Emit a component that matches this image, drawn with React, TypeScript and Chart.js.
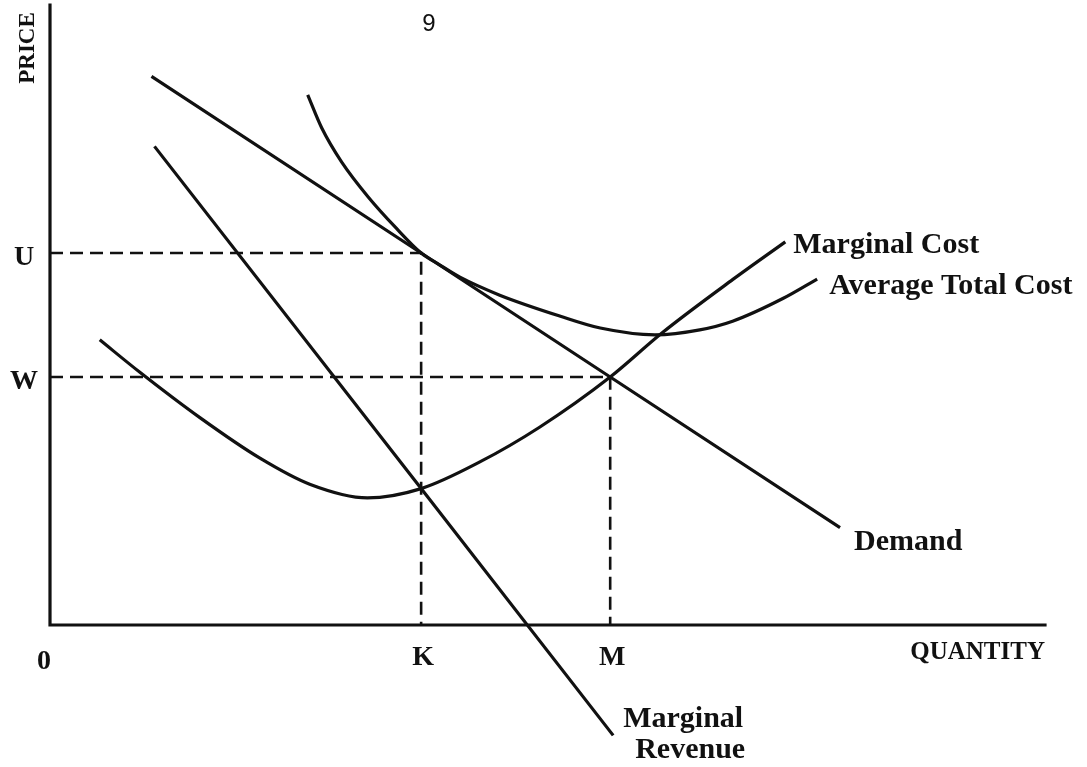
import React, { useEffect, useRef } from "react";
import { Chart, registerables } from "chart.js";

Chart.register(...registerables);

// ---- data (price / quantity units, 0..100) ----
const K = 37.3; // quantity where MR = MC
const M = 56.3; // quantity where Demand = MC
const U = 60; // price at K on demand (= ATC)
const W = 40; // price at M on demand (= MC)

const demand: [number, number][] = [
  [10.2, 88.5],
  [37.3, 60],
  [56.3, 40],
  [79.4, 15.7],
];

const marginalRevenue: [number, number][] = [
  [10.5, 77.2],
  [37.3, 22.0],
  [56.6, -17.8],
];

const marginalCost: [number, number][] = [
  [5.0, 46.0],
  [9.0, 40.8],
  [15.1, 33.4],
  [21.1, 26.9],
  [26.1, 22.7],
  [31.9, 20.5],
  [37.3, 22.0],
  [43.2, 26.3],
  [49.2, 31.9],
  [56.3, 40.0],
  [61.5, 47.1],
  [68.6, 55.7],
  [73.9, 61.8],
];

const averageTotalCost: [number, number][] = [
  [25.9, 85.5],
  [27.3, 80.2],
  [29.3, 74.7],
  [32.0, 69.0],
  [34.8, 64.0],
  [37.3, 60.0],
  [39.2, 58.05],
  [41.2, 56.1],
  [45.2, 53.2],
  [51.3, 49.8],
  [55.3, 47.9],
  [60.8, 46.8],
  [65.3, 47.6],
  [68.6, 49.0],
  [73.7, 52.7],
  [77.1, 55.8],
];

const priceTickLabels = ["U", "W"];
const priceTickValues = [U, W];
const quantityTickLabels = ["0", "K", "M"];
const quantityTickValues = [0, K, M];

const INK = "#111111";
const SERIF = '"Liberation Serif", "DejaVu Serif", serif';

const toPts = (arr: [number, number][]) => arr.map(([x, y]) => ({ x, y }));

const diagramPlugin = {
  id: "diagram",
  beforeDraw(chart: any) {
    const { ctx, width, height } = chart;
    ctx.save();
    ctx.fillStyle = "#ffffff";
    ctx.fillRect(0, 0, width, height);
    ctx.restore();
  },
  afterDatasetsDraw(chart: any) {
    const { ctx, chartArea } = chart;
    const xs = chart.scales.x;
    const ys = chart.scales.y;
    ctx.save();
    // axes
    ctx.strokeStyle = INK;
    ctx.lineWidth = 3.2;
    ctx.lineCap = "square";
    ctx.beginPath();
    ctx.moveTo(chartArea.left, chartArea.top);
    ctx.lineTo(chartArea.left, chartArea.bottom);
    ctx.lineTo(chartArea.right, chartArea.bottom);
    ctx.stroke();

    ctx.fillStyle = INK;
    ctx.textBaseline = "alphabetic";

    // price tick labels
    ctx.font = `bold 28px ${SERIF}`;
    ctx.textAlign = "center";
    priceTickLabels.forEach((lab, i) => {
      const py = ys.getPixelForValue(priceTickValues[i]);
      ctx.fillText(lab, chartArea.left - 26, py + 12);
    });

    // quantity tick labels
    quantityTickLabels.forEach((lab, i) => {
      const px = xs.getPixelForValue(quantityTickValues[i]);
      const dx = i === 0 ? -6 : 2;
      const dy = i === 0 ? 44 : 40;
      ctx.fillText(lab, px + dx, chartArea.bottom + dy);
    });

    // axis titles
    ctx.font = `bold 25px ${SERIF}`;
    ctx.textAlign = "right";
    ctx.fillText("QUANTITY", chartArea.right, chartArea.bottom + 34);

    ctx.save();
    ctx.translate(chartArea.left - 16, chartArea.top + 43);
    ctx.rotate(-Math.PI / 2);
    ctx.font = `bold 23px ${SERIF}`;
    ctx.textAlign = "center";
    ctx.fillText("PRICE", 0, 0);
    ctx.restore();

    // curve labels
    ctx.font = `bold 30px ${SERIF}`;
    ctx.textAlign = "left";
    const mcEnd = marginalCost[marginalCost.length - 1];
    ctx.fillText(
      "Marginal Cost",
      xs.getPixelForValue(mcEnd[0]) + 8,
      ys.getPixelForValue(mcEnd[1]) + 11
    );
    const atcEnd = averageTotalCost[averageTotalCost.length - 1];
    ctx.fillText(
      "Average Total Cost",
      xs.getPixelForValue(atcEnd[0]) + 12,
      ys.getPixelForValue(atcEnd[1]) + 15
    );
    const dEnd = demand[demand.length - 1];
    ctx.fillText(
      "Demand",
      xs.getPixelForValue(dEnd[0]) + 14,
      ys.getPixelForValue(dEnd[1]) + 22
    );
    const mrEnd = marginalRevenue[marginalRevenue.length - 1];
    const mrx = xs.getPixelForValue(mrEnd[0]);
    const mry = ys.getPixelForValue(mrEnd[1]);
    ctx.fillText("Marginal", mrx + 10, mry - 8);
    ctx.fillText("Revenue", mrx + 22, mry + 23);

    // page number
    ctx.font = `24px "Liberation Sans", Arial, sans-serif`;
    ctx.textAlign = "center";
    ctx.fillText("9", 429, 31);
    ctx.restore();
  },
};

export default function App() {
  const canvasRef = useRef<HTMLCanvasElement | null>(null);

  useEffect(() => {
    if (!canvasRef.current) return;
    const solid = {
      showLine: true,
      pointRadius: 0,
      borderColor: INK,
      borderWidth: 3.2,
      fill: false,
      clip: false as any,
    };
    const dashed = {
      showLine: true,
      pointRadius: 0,
      borderColor: INK,
      borderWidth: 2.6,
      borderDash: [13, 7],
      fill: false,
      tension: 0,
      clip: false as any,
    };
    const chart = new Chart(canvasRef.current, {
      type: "scatter",
      data: {
        datasets: [
          { ...dashed, label: "U", data: [{ x: 0, y: U }, { x: K, y: U }, { x: K, y: 0 }] },
          { ...dashed, label: "W", data: [{ x: 0, y: W }, { x: M, y: W }, { x: M, y: 0 }] },
          { ...solid, label: "Demand", data: toPts(demand), tension: 0 },
          { ...solid, label: "Marginal Revenue", data: toPts(marginalRevenue), tension: 0 },
          {
            ...solid,
            label: "Marginal Cost",
            data: toPts(marginalCost),
            cubicInterpolationMode: "monotone",
          },
          {
            ...solid,
            label: "Average Total Cost",
            data: toPts(averageTotalCost),
            cubicInterpolationMode: "monotone",
          },
        ] as any,
      },
      options: {
        animation: false,
        responsive: false,
        devicePixelRatio: 1,
        layout: { padding: { left: 50, top: 5, right: 42, bottom: 142 } },
        scales: {
          x: { type: "linear", min: 0, max: 100, display: false },
          y: { type: "linear", min: 0, max: 100, display: false },
        },
        plugins: {
          legend: { display: false },
          tooltip: { enabled: false },
        },
        events: [],
      },
      plugins: [diagramPlugin],
    });
    return () => chart.destroy();
  }, []);

  return (
    <div style={{ position: "absolute", left: 0, top: 0, width: 1087, height: 767, background: "#fff" }}>
      <canvas ref={canvasRef} width={1087} height={767} />
    </div>
  );
}
